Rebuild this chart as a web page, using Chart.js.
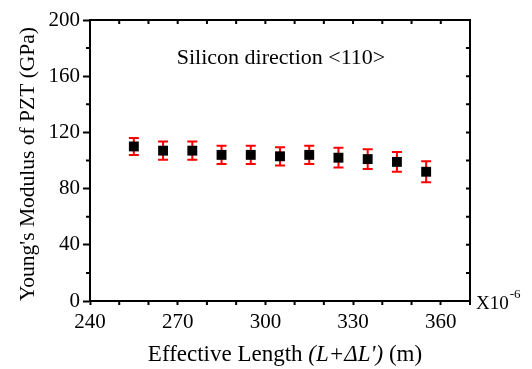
<!DOCTYPE html>
<html>
<head>
<meta charset="utf-8">
<script src="https://cdn.jsdelivr.net/npm/chart.js@4/dist/chart.umd.min.js"></script>
<style>
    html, body { margin: 0; padding: 0; background: #fff; }
    #wrap { width: 532px; height: 369px; }
</style>
</head>
<body>
<div id="wrap"><canvas id="container" width="532" height="369"></canvas></div>
<script>
// Young's modulus vs effective length
const lengths = [255, 265, 275, 285, 295, 305, 315, 325, 335, 345, 355];
const modulus = [110, 107, 107, 104, 104, 103, 104, 102, 101, 99, 92];
const modulusErr = [6, 6.5, 6.5, 6.5, 6.5, 6.5, 6.5, 7, 7, 7, 7.5];
const xTicks = [240, 270, 300, 330, 360];
const yTicks = [0, 40, 80, 120, 160, 200];

const serif = "'Liberation Serif', 'Times New Roman', serif";

// red error bars with caps, drawn under the markers
const errorBars = {
    id: 'errorBars',
    beforeDatasetsDraw(chart) {
        const { ctx, scales: { x, y } } = chart;
        ctx.save();
        ctx.strokeStyle = '#ff0000';
        ctx.lineWidth = 2;
        lengths.forEach((len, i) => {
            const px = x.getPixelForValue(len);
            const top = y.getPixelForValue(modulus[i] + modulusErr[i]);
            const bot = y.getPixelForValue(modulus[i] - modulusErr[i]);
            ctx.beginPath();
            ctx.moveTo(px, top);
            ctx.lineTo(px, bot);
            ctx.moveTo(px - 5, top);
            ctx.lineTo(px + 5, top);
            ctx.moveTo(px - 5, bot);
            ctx.lineTo(px + 5, bot);
            ctx.stroke();
        });
        ctx.restore();
    }
};

// box frame, minor ticks and the text labels
const frame = {
    id: 'frame',
    afterDraw(chart) {
        const { ctx, chartArea: a, scales: { x, y } } = chart;
        ctx.save();
        ctx.strokeStyle = '#000';
        ctx.lineWidth = 2;
        ctx.beginPath();
        ctx.moveTo(a.left, a.top);
        ctx.lineTo(a.right, a.top);
        ctx.lineTo(a.right, a.bottom);
        ctx.stroke();

        ctx.beginPath();
        for (let v = 240; v <= 370; v += 10) {
            const px = x.getPixelForValue(v);
            if (!xTicks.includes(v)) {
                ctx.moveTo(px, a.bottom);
                ctx.lineTo(px, a.bottom + 4);
            }
            if (v > 240 && v < 370) {
                ctx.moveTo(px, a.top);
                ctx.lineTo(px, a.top + 4);
            }
        }
        for (let v = 20; v < 200; v += 20) {
            const py = y.getPixelForValue(v);
            if (!yTicks.includes(v)) {
                ctx.moveTo(a.left - 4, py);
                ctx.lineTo(a.left, py);
            }
            ctx.moveTo(a.right - 4, py);
            ctx.lineTo(a.right, py);
        }
        ctx.stroke();

        ctx.fillStyle = '#000';
        ctx.textBaseline = 'alphabetic';

        ctx.font = '22px ' + serif;
        ctx.textAlign = 'center';
        ctx.fillText('Silicon direction <110>', 281, 64);

        // y axis title
        ctx.save();
        ctx.translate(34, 164);
        ctx.rotate(-Math.PI / 2);
        ctx.font = '21.5px ' + serif;
        ctx.fillText("Young's Modulus of PZT (GPa)", 0, 0);
        ctx.restore();

        // x axis title with italic middle part
        const parts = [
            ['Effective Length ', '23px ' + serif],
            ["(L+\u0394L')", 'italic 23px ' + serif],
            [' (m)', '23px ' + serif]
        ];
        let total = 0;
        parts.forEach(p => { ctx.font = p[1]; total += ctx.measureText(p[0]).width; });
        let tx = 285 - total / 2;
        ctx.textAlign = 'left';
        parts.forEach(p => {
            ctx.font = p[1];
            ctx.fillText(p[0], tx, 361);
            tx += ctx.measureText(p[0]).width;
        });

        // axis multiplier
        ctx.font = '19px ' + serif;
        ctx.fillText('X10', 476, 309);
        const w = ctx.measureText('X10').width;
        ctx.font = '13px ' + serif;
        ctx.fillText('-6', 476 + w + 1, 298);
        ctx.restore();
    }
};

const ctx = document.getElementById('container').getContext('2d');

const chart = new Chart(ctx, {
    type: 'scatter',
    data: {
        datasets: [{
            label: 'Modulus',
            data: lengths.map((len, i) => ({ x: len, y: modulus[i] })),
            pointStyle: 'rect',
            pointRadius: 7,
            pointHoverRadius: 7,
            backgroundColor: '#000',
            borderColor: '#000',
            borderWidth: 0
        }]
    },
    options: {
        responsive: false,
        animation: false,
        events: [],
        layout: { padding: { top: 20, right: 62, left: 0, bottom: 0 } },
        plugins: {
            legend: { display: false },
            tooltip: { enabled: false }
        },
        scales: {
            x: {
                type: 'linear',
                min: 240,
                max: 370,
                afterBuildTicks: scale => { scale.ticks = xTicks.map(v => ({ value: v })); },
                afterFit: scale => { scale.height = 68; },
                grid: { display: true, drawOnChartArea: false, tickLength: 4, tickWidth: 2, tickColor: '#000' },
                border: { display: true, color: '#000', width: 2 },
                ticks: { color: '#000', padding: 5, maxRotation: 0, font: { family: serif, size: 21 } }
            },
            y: {
                min: 0,
                max: 200,
                afterBuildTicks: scale => { scale.ticks = yTicks.map(v => ({ value: v })); },
                afterFit: scale => { scale.width = 90; },
                grid: { display: true, drawOnChartArea: false, tickLength: 7, tickWidth: 2, tickColor: '#000' },
                border: { display: true, color: '#000', width: 2 },
                ticks: { color: '#000', padding: 3, font: { family: serif, size: 21 } }
            }
        }
    },
    plugins: [errorBars, frame]
});
</script>
</body>
</html>
